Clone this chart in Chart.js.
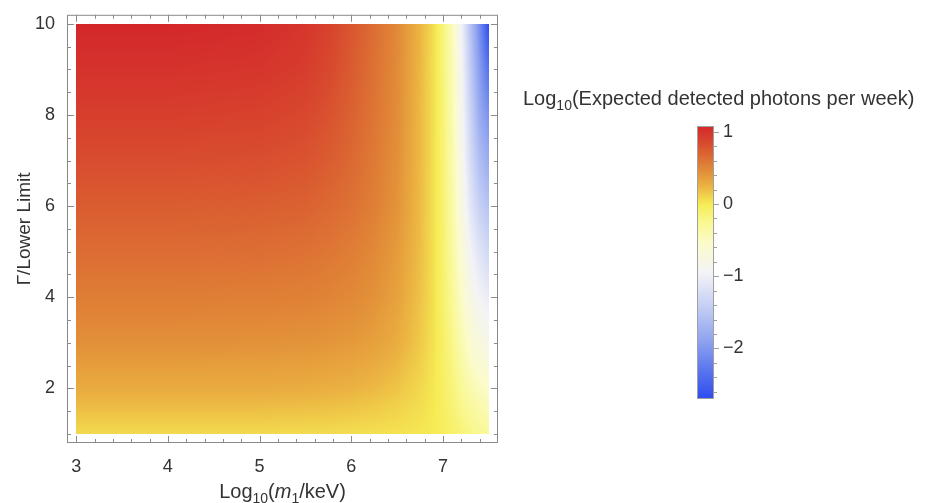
<!DOCTYPE html>
<html>
<head>
<meta charset="utf-8">
<title>Expected detected photons per week</title>
<script src="https://cdn.jsdelivr.net/npm/chart.js@4.4.1/dist/chart.umd.min.js"></script>
<style>
  body { margin: 0; background: #fff; }
</style>
</head>
<body>
<canvas id="heat" width="934" height="503"></canvas>
<script>
// grid columns: log10(m1/keV)
const massLog = [3, 4, 5, 5.5, 5.75, 6, 6.25, 6.5, 6.75, 6.9, 7.0, 7.1, 7.2, 7.3, 7.4, 7.5];
// grid rows: Gamma / lower limit
const gammaRatio = [1, 2, 3, 4, 5, 6, 7, 8, 9, 10];
// log10(expected detected photons per week), one row per gammaRatio entry
const logPhotons = [
    [0.08, 0.08, 0.08, 0.07, 0.07, 0.06, 0.05, 0.04, 0.02, 0.00, -0.04, -0.09, -0.15, -0.21, -0.26, -0.30],
    [0.29, 0.29, 0.29, 0.28, 0.27, 0.25, 0.22, 0.17, 0.09, 0.02, -0.06, -0.16, -0.28, -0.40, -0.48, -0.55],
    [0.44, 0.44, 0.43, 0.42, 0.41, 0.39, 0.35, 0.28, 0.15, 0.04, -0.08, -0.22, -0.40, -0.60, -0.72, -0.80],
    [0.55, 0.55, 0.54, 0.53, 0.51, 0.48, 0.43, 0.34, 0.18, 0.05, -0.10, -0.28, -0.52, -0.78, -0.95, -1.05],
    [0.65, 0.65, 0.64, 0.62, 0.59, 0.55, 0.48, 0.38, 0.20, 0.05, -0.11, -0.32, -0.62, -0.95, -1.15, -1.30],
    [0.74, 0.74, 0.73, 0.71, 0.67, 0.62, 0.54, 0.42, 0.21, 0.05, -0.12, -0.35, -0.72, -1.12, -1.40, -1.55],
    [0.83, 0.83, 0.82, 0.79, 0.74, 0.67, 0.57, 0.44, 0.22, 0.05, -0.13, -0.38, -0.80, -1.25, -1.60, -1.80],
    [0.92, 0.92, 0.90, 0.86, 0.80, 0.71, 0.60, 0.46, 0.22, 0.05, -0.14, -0.40, -0.85, -1.35, -1.80, -2.05],
    [1.00, 1.00, 0.98, 0.93, 0.86, 0.75, 0.62, 0.47, 0.23, 0.05, -0.15, -0.42, -0.90, -1.45, -1.95, -2.35],
    [1.08, 1.08, 1.05, 0.98, 0.90, 0.78, 0.64, 0.48, 0.24, 0.06, -0.15, -0.45, -0.95, -1.55, -2.10, -2.70]
];
const xTicks = [3, 4, 5, 6, 7];
const yTicks = [2, 4, 6, 8, 10];
const barTicks = [1, 0, -1, -2];

const FONT = '"Liberation Sans", Arial, Helvetica, sans-serif';
const INK = '#333';
const FRAME = '#8a8a8a';

// temperature-like colour map, by value
const stops = [
    [-2.73, '#2b48f0'], [-2.3, '#5a76ee'], [-1.9, '#8ea2ef'], [-1.4, '#c6d0f5'],
    [-0.95, '#f3f3f6'], [-0.55, '#fbfbcc'], [-0.25, '#f9f890'], [0.0, '#f6ec54'],
    [0.25, '#ebb241'], [0.45, '#e28e38'], [0.65, '#dc6c33'], [0.85, '#d8492e'], [1.11, '#d3222a']
].map(([v, hex]) => [v, [1, 3, 5].map(k => parseInt(hex.substr(k, 2), 16))]);

function colorFor(v) {
    if (v <= stops[0][0]) return stops[0][1];
    for (let i = 1; i < stops.length; i++) {
        if (v <= stops[i][0]) {
            const t = (v - stops[i - 1][0]) / (stops[i][0] - stops[i - 1][0]);
            const a = stops[i - 1][1], b = stops[i][1];
            return a.map((c, k) => Math.round(c + (b[k] - c) * t));
        }
    }
    return stops[stops.length - 1][1];
}

function locate(arr, v) {
    let i = 0;
    while (i < arr.length - 2 && v > arr[i + 1]) i++;
    const t = Math.min(1, Math.max(0, (v - arr[i]) / (arr[i + 1] - arr[i])));
    return [i, t];
}

function sample(mx, gy) {
    const [i, tx] = locate(massLog, mx);
    const [j, ty] = locate(gammaRatio, gy);
    const lo = logPhotons[j][i] * (1 - tx) + logPhotons[j][i + 1] * tx;
    const hi = logPhotons[j + 1][i] * (1 - tx) + logPhotons[j + 1][i + 1] * tx;
    return lo * (1 - ty) + hi * ty;
}

// draws a line of text made of runs (for subscripts / italics)
function drawRuns(ctx, runs, x, baseline, align) {
    const fontOf = r => (r.italic ? 'italic ' : '') + r.size + 'px ' + FONT;
    let total = 0;
    runs.forEach(r => { ctx.font = fontOf(r); total += ctx.measureText(r.text).width; });
    let cx = align === 'center' ? x - total / 2 : x;
    ctx.textAlign = 'left';
    ctx.textBaseline = 'alphabetic';
    ctx.fillStyle = INK;
    runs.forEach(r => {
        ctx.font = fontOf(r);
        ctx.fillText(r.text, cx, baseline + (r.dy || 0));
        cx += ctx.measureText(r.text).width;
    });
}

const points = [];
gammaRatio.forEach((g, j) => massLog.forEach((m, i) => points.push({ x: m, y: g, v: logPhotons[j][i] })));

const heatPlugin = {
    id: 'heat',
    beforeDatasetsDraw(chart) {
        const { ctx, scales: { x, y } } = chart;
        const left = Math.round(x.getPixelForValue(massLog[0]));
        const right = Math.round(x.getPixelForValue(massLog[massLog.length - 1]));
        const top = Math.round(y.getPixelForValue(gammaRatio[gammaRatio.length - 1]));
        const bottom = Math.round(y.getPixelForValue(gammaRatio[0]));
        const w = right - left, h = bottom - top;
        const img = ctx.createImageData(w, h);
        for (let py = 0; py < h; py++) {
            const gy = y.getValueForPixel(top + py + 0.5);
            for (let px = 0; px < w; px++) {
                const c = colorFor(sample(x.getValueForPixel(left + px + 0.5), gy));
                const o = (py * w + px) * 4;
                img.data[o] = c[0]; img.data[o + 1] = c[1]; img.data[o + 2] = c[2]; img.data[o + 3] = 255;
            }
        }
        ctx.putImageData(img, left, top);
    },
    afterDatasetsDraw(chart) {
        const { ctx, chartArea: a, scales: { x, y } } = chart;
        ctx.save();
        ctx.strokeStyle = FRAME;
        ctx.lineWidth = 1;
        ctx.strokeRect(a.left + 0.5, a.top + 0.5, a.right - a.left - 1, a.bottom - a.top - 1);
        ctx.beginPath();
        for (let k = 0; k <= 22; k++) {
            const v = 3 + k * 0.2;
            const len = Math.abs(v - Math.round(v)) < 1e-6 ? 7 : 4;
            const px = Math.round(x.getPixelForValue(v)) + 0.5;
            ctx.moveTo(px, a.bottom); ctx.lineTo(px, a.bottom - len);
            ctx.moveTo(px, a.top); ctx.lineTo(px, a.top + len);
        }
        for (let k = 0; k <= 18; k++) {
            const v = 1 + k * 0.5;
            const len = v % 2 === 0 ? 7 : 4;
            const py = Math.round(y.getPixelForValue(v)) + 0.5;
            ctx.moveTo(a.left, py); ctx.lineTo(a.left + len, py);
            ctx.moveTo(a.right, py); ctx.lineTo(a.right - len, py);
        }
        ctx.stroke();
        ctx.restore();
    },
    afterDraw(chart) {
        const { ctx, chartArea: a } = chart;
        ctx.save();
        // x axis title
        drawRuns(ctx, [
            { text: 'Log', size: 20 }, { text: '10', size: 14, dy: 5 }, { text: '(', size: 20 },
            { text: 'm', size: 20, italic: true }, { text: '1', size: 14, dy: 5 }, { text: '/keV)', size: 20 }
        ], (a.left + a.right) / 2, 498, 'center');

        // colour bar legend
        const bar = { left: 697, right: 714, top: 126, bottom: 399 };
        const all = logPhotons.flat();
        const lo = Math.min(...all), hi = Math.max(...all);
        const valAt = py => lo + (bar.bottom - py) / (bar.bottom - bar.top) * (hi - lo);
        const pxAt = v => bar.bottom - (v - lo) / (hi - lo) * (bar.bottom - bar.top);
        for (let py = bar.top; py < bar.bottom; py++) {
            const c = colorFor(valAt(py + 0.5));
            ctx.fillStyle = `rgb(${c[0]},${c[1]},${c[2]})`;
            ctx.fillRect(bar.left, py, bar.right - bar.left, 1);
        }
        ctx.strokeStyle = '#a0a0a0';
        ctx.lineWidth = 1;
        ctx.strokeRect(bar.left + 0.5, bar.top + 0.5, bar.right - bar.left - 1, bar.bottom - bar.top - 1);
        ctx.beginPath();
        for (let v = Math.ceil(lo / 0.2) * 0.2; v <= hi + 1e-6; v += 0.2) {
            const major = Math.abs(v - Math.round(v)) < 1e-6;
            const py = Math.round(pxAt(v)) + 0.5;
            ctx.moveTo(bar.right, py); ctx.lineTo(bar.right + (major ? 5 : 3), py);
        }
        ctx.stroke();
        ctx.fillStyle = INK;
        ctx.font = '18px ' + FONT;
        ctx.textAlign = 'left';
        ctx.textBaseline = 'middle';
        barTicks.forEach(v => {
            ctx.fillText(v < 0 ? '\u2212' + Math.abs(v) : String(v), bar.right + 9, pxAt(v));
        });
        drawRuns(ctx, [
            { text: 'Log', size: 20 }, { text: '10', size: 14, dy: 5 },
            { text: '(Expected detected photons per week)', size: 20 }
        ], 523, 105, 'left');
        ctx.restore();
    }
};

new Chart(document.getElementById('heat'), {
    type: 'scatter',
    data: {
        datasets: [{ label: 'log10 photons', data: points, pointRadius: 0, pointHoverRadius: 0 }]
    },
    options: {
        responsive: false,
        animation: false,
        events: [],
        layout: { padding: { top: 13, right: 436, bottom: 0, left: 0 } },
        plugins: { legend: { display: false }, tooltip: { enabled: false } },
        scales: {
            x: {
                type: 'linear', min: 2.9, max: 7.6,
                grid: { display: false }, border: { display: false },
                afterBuildTicks: s => { s.ticks = xTicks.map(v => ({ value: v })); },
                afterFit: s => { s.height = 60; },
                ticks: { padding: 5, color: INK, font: { family: FONT, size: 18 } }
            },
            y: {
                type: 'linear', min: 0.8, max: 10.2,
                grid: { display: false }, border: { display: false },
                afterBuildTicks: s => { s.ticks = yTicks.map(v => ({ value: v })); },
                afterFit: s => { s.width = 67; },
                ticks: { padding: 4, color: INK, font: { family: FONT, size: 18 } },
                title: {
                    display: true, text: '\u0393/Lower Limit', color: INK,
                    font: { family: FONT, size: 19 }, padding: { top: 13, bottom: 0 }
                }
            }
        }
    },
    plugins: [heatPlugin]
});
</script>
</body>
</html>
